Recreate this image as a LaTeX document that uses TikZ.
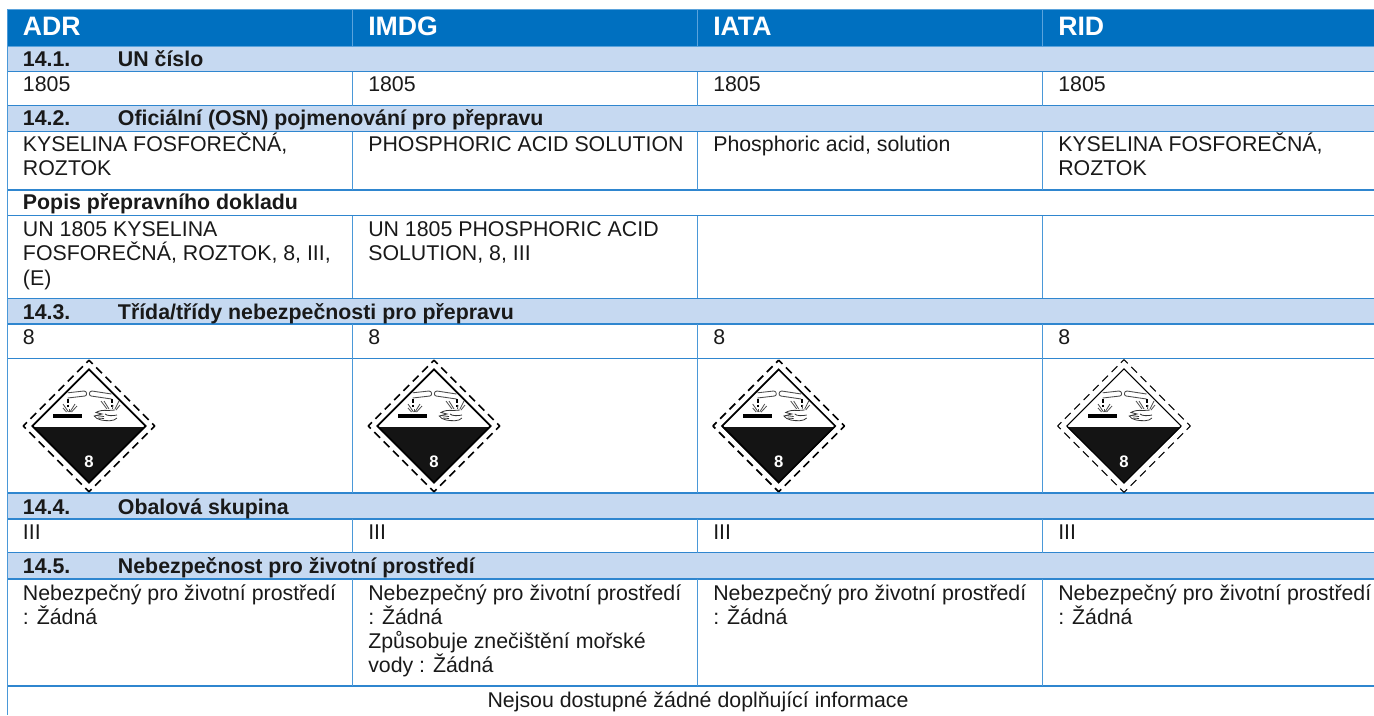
\documentclass[tikz,border=0pt]{standalone}
\usepackage{fontspec}
\setmainfont{Liberation Sans}
\definecolor{hdr}{HTML}{0070C0}
\definecolor{hdrline}{HTML}{5BA3DC}
\definecolor{bar}{HTML}{C6D9F1}
\definecolor{rule}{HTML}{4A98D8}
\definecolor{ruleh}{HTML}{2F86CF}
\tikzset{
  body/.style={anchor=base west,inner sep=0pt,font=\fontsize{16}{18}\selectfont,text=black!90},
  sect/.style={anchor=base west,inner sep=0pt,font=\fontsize{16}{18}\selectfont\bfseries,text=black!90},
  head/.style={anchor=base west,inner sep=0pt,font=\fontsize{20}{22}\selectfont\bfseries,text=white},
  vline/.style={draw=rule,line width=1.1pt},
  hline/.style={draw=ruleh,line width=1pt},
  hazard/.pic={
    \tikzset{x=.75pt,y=-.75pt}
    % inner diamond
    \fill[black!92] (-\hi,1) -- (\hi,1) -- (0,\hi) -- cycle;
    \draw[black,line width=\lw,line join=miter] (0,-\hi) -- (\hi,0) -- (0,\hi) -- (-\hi,0) -- cycle;
    % outer dashed
    \foreach \ax/\ay/\bx/\by in {0/-1/1/0,1/0/0/1,0/1/-1/0,-1/0/0/-1}
      \draw[black,line width=\lw,dash pattern=on 6.1pt off 3.8pt,dash phase=2.2pt]
        (\ax*\ho,\ay*\ho) -- (\bx*\ho,\by*\ho);
    % corrosive symbol: bar
    \fill[black] (-35.7,-12.4) rectangle (-6.7,-7.7);
    % tubes
    \draw[black!70,line width=.65pt,fill=white] (-21.3,-33.2) -- (-5,-35) .. controls (-2,-35) and (-1.5,-30.5) .. (-4,-30) -- (-21.3,-28);
    \draw[black!70,line width=.65pt,fill=white] (22.5,-32) -- (3,-35) .. controls (0,-35) and (-.5,-30.5) .. (2,-30) -- (22.5,-27);
    % drops
    \foreach \ya/\yb in {-27/-23,-21.5/-19}{
      \draw[black,line width=1.3pt] (-21,\ya) -- (-21,\yb);
      \draw[black,line width=1.3pt] (23,\ya) -- (23,\yb);
    }
    % splashes
    \foreach \xa/\ya/\xb/\yb in {-20.5/-14/-26/-22,-20/-14/-20/-17,-19/-14/-14/-22,-17.5/-14/-12/-20,-22.5/-14/-26/-18}
      \draw[black!70,line width=.6pt] (\xa,\ya) -- (\xb,\yb);
    \foreach \xa/\ya/\xb/\yb in {18/-17/12/-25,20/-17/15/-25,23.5/-17/24/-21,26/-17/30/-25,27/-16/31/-21}
      \draw[black!70,line width=.6pt] (\xa,\ya) -- (\xb,\yb);
    % hand
    \draw[black!80,line width=.6pt,fill=white] (28,-8) .. controls (25,-4.5) and (18,-5) .. (12,-6) .. controls (9,-7) and (6,-8) .. (5.3,-10)
      -- (13,-12) -- (7,-13.5) .. controls (10,-15.5) and (15,-16) .. (19,-15.5) -- (26,-16);
    \draw[black!80,line width=.6pt] (7,-10.5) -- (15,-9.5) (9,-8) -- (15,-7.5) (16,-12) .. controls (18,-10) and (24,-10) .. (28,-11);
    % class number
    \node[inner sep=0pt,text=white,font=\fontsize{12.5}{14}\selectfont\bfseries] at (0,35.6) {8};
  }
}
\begin{document}
\begin{tikzpicture}[x=.75pt,y=-.75pt]
\useasboundingbox (0,0) rectangle (1374,715);
\clip (0,0) rectangle (1374,715);
% fills
\fill[hdr] (8,9) rectangle (1374,46);
\foreach \a/\b in {46/71.5,105.5/131.5,298.3/324,493/519,552.7/579}
  \fill[bar] (8,\a) rectangle (1374,\b);
% header rules
\draw[hdrline,line width=.75pt] (7.5,9) -- (1374,9);
\draw[hdrline,line width=.75pt] (7.5,46) -- (1374,46);
\foreach \x in {352.6,697.6,1042.6}
  \draw[hdrline,line width=.5pt] (\x,9) -- (\x,46);
% horizontal rules
\foreach \y in {71.5,105.5,131.5,190,215.7,298.3,324,358.4,493,519,552.7,579,686}
  \path[hline] (7.5,\y) -- (1374,\y);
% vertical rules
\path[vline] (7.5,9) -- (7.5,715);
\foreach \x in {352.6,697.6,1042.6}{
  \foreach \a/\b in {71.5/105.5,131.5/190,215.7/298.3,324/493,519/552.7,579/686}
    \path[vline] (\x,\a) -- (\x,\b);
}
% header
\node[head] (h1) at (22.7,35) {ADR};
\node[head] (h2) at (368,35) {IMDG};
\node[head] (h3) at (713,35) {IATA};
\node[head] (h4) at (1058,35) {RID};
% 14.1
\node[sect] (s1) at (22.7,66.5) {14.1.};
\node[sect] (s1t) at (117.7,66.5) {UN číslo};
\node[body] (a1) at (22.7,91.7) {1805};
\node[body] (a2) at (368,91.7) {1805};
\node[body] (a3) at (713,91.7) {1805};
\node[body] (a4) at (1058,91.7) {1805};
% 14.2
\node[sect] (s2) at (22.7,125.5) {14.2.};
\node[sect] (s2t) at (117.7,125.5) {Oficiální (OSN) pojmenování pro přepravu};
\node[body] (b1) at (22.7,151.7) {KYSELINA FOSFOREČNÁ,};
\node[body] (b1b) at (22.7,175.9) {ROZTOK};
\node[body] (b2) at (368,151.7) {PHOSPHORIC ACID SOLUTION};
\node[body] (b3) at (713,151.7) {Phosphoric acid, solution};
\node[body] (b4) at (1058,151.7) {KYSELINA FOSFOREČNÁ,};
\node[body] (b4b) at (1058,175.9) {ROZTOK};
\node[sect] (p) at (22.7,209) {Popis přepravního dokladu};
\node[body] (c1) at (22.7,236.7) {UN 1805 KYSELINA};
\node[body] (c1b) at (22.7,260.9) {FOSFOREČNÁ, ROZTOK, 8, III,};
\node[body] (c1c) at (22.7,285.1) {(E)};
\node[body] (c2) at (368,236.7) {UN 1805 PHOSPHORIC ACID};
\node[body] (c2b) at (368,260.9) {SOLUTION, 8, III};
% 14.3
\node[sect] (s3) at (22.7,319) {14.3.};
\node[sect] (s3t) at (117.7,319) {Třída/třídy nebezpečnosti pro přepravu};
\node[body] (d1) at (22.7,344.3) {8};
\node[body] (d2) at (368,344.3) {8};
\node[body] (d3) at (713,344.3) {8};
\node[body] (d4) at (1058,344.3) {8};
\def\hi{56.6}\def\ho{65.8}\def\lw{1.25pt}
\pic at (89,426) {hazard};
\pic at (434,426) {hazard};
\pic at (778.7,426) {hazard};
\def\hi{57.2}\def\ho{66.3}\def\lw{.8pt}
\pic at (1124,426) {hazard};
% 14.4
\node[sect] (s4) at (22.7,514) {14.4.};
\node[sect] (s4t) at (117.7,514) {Obalová skupina};
\node[body] (e1) at (22.7,539.3) {III};
\node[body] (e2) at (368,539.3) {III};
\node[body] (e3) at (713,539.3) {III};
\node[body] (e4) at (1058,539.3) {III};
% 14.5
\node[sect] (s5) at (22.7,573) {14.5.};
\node[sect] (s5t) at (117.7,573) {Nebezpečnost pro životní prostředí};
\node[body] (f1) at (22.7,600) {Nebezpečný pro životní prostředí};
\node[body] (f1b) at (22.7,624.2) {: Žádná};
\node[body] (f2) at (368,600) {Nebezpečný pro životní prostředí};
\node[body] (f2b) at (368,624.2) {: Žádná};
\node[body] (f2c) at (368,648.4) {Způsobuje znečištění mořské};
\node[body] (f2d) at (368,672.6) {vody : Žádná};
\node[body] (f3) at (713,600) {Nebezpečný pro životní prostředí};
\node[body] (f3b) at (713,624.2) {: Žádná};
\node[body] (f4) at (1058,600) {Nebezpečný pro životní prostředí};
\node[body] (f4b) at (1058,624.2) {: Žádná};
\node[body,anchor=base] (g) at (698,707) {Nejsou dostupné žádné doplňující informace};
\end{tikzpicture}
\end{document}
